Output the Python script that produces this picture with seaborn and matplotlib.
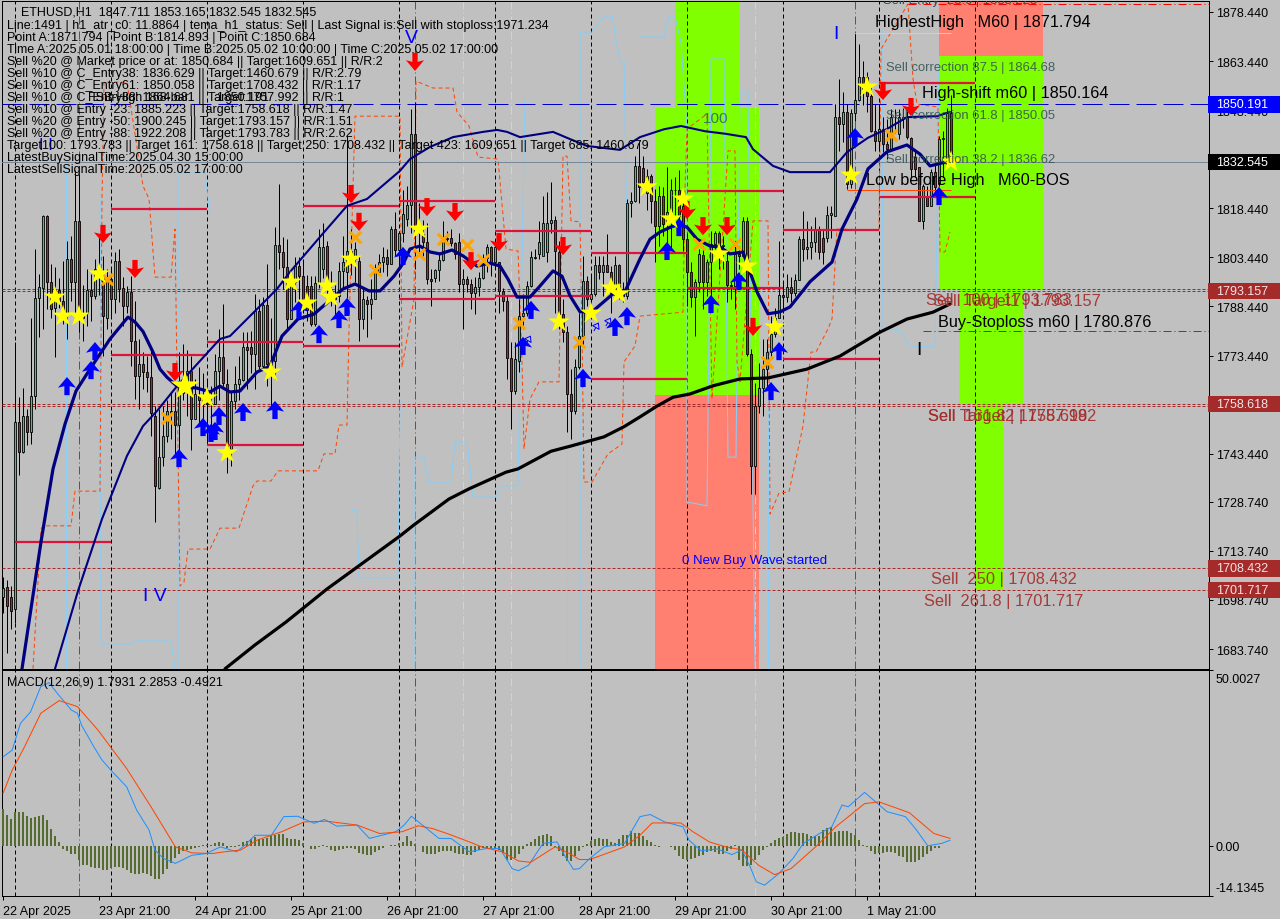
import numpy as np
import pandas as pd
import matplotlib
matplotlib.use("Agg")
import matplotlib.pyplot as plt
from matplotlib.path import Path
import seaborn as sns

open_ = [1699.5,1702.7,1699.5,1696,1753,1744,1755,1750,1761,1791,
1794,1816,1796,1788,1793.5,1790,1786,1803,1796,1814.5,
1786.6,1786.6,1793.6,1791.7,1800,1797.8,1785,1796.8,1790.7,1802.4,
1794,1788.7,1793,1778,1767.3,1771,1768.3,1767,1755,1733,
1742.3,1749,1756.6,1756.6,1752.3,1765.8,1764,1768.8,1754,1761,
1760,1758.5,1759,1758.6,1768.6,1773,1764.7,1745,1759.7,1764.7,
1766,1776,1776,1773.9,1787,1770.4,1789,1771,1771.9,1807.2,
1805.2,1800.4,1784.6,1795.8,1800.7,1797.8,1794.6,1794.6,1783,1795.6,
1799.9,1807,1793.8,1791.7,1791.7,1799.2,1799.1,1805.5,1803,1802.4,
1784.6,1790.4,1789.2,1790.7,1798.9,1801.9,1803.5,1801.4,1812,1805.8,
1810.8,1815.2,1819.6,1841.2,1811,1810.6,1808,1796.8,1797.1,1799.5,
1802.7,1809,1809.3,1807.8,1808,1795.3,1796.8,1795.3,1792.5,1794.3,
1797.1,1803.2,1806.7,1801.9,1801.9,1793.3,1790.2,1772.6,1762.7,1771.7,
1785.6,1786.6,1794.6,1803.5,1804.5,1804,1805,1814.1,1814.9,1805,
1786,1780.5,1761.7,1756.6,1769.9,1779.5,1796.3,1790.7,1792.2,1801.1,
1798.9,1801.1,1798.9,1792.7,1801.1,1793.8,1791.7,1820,1820.6,1831.3,
1830.8,1823,1828.4,1820.8,1813.1,1822.1,1813.6,1817.2,1824,1824.1,
1819.3,1809,1798.9,1791.2,1796,1804.2,1796,1801.9,1807.5,1810.9,
1807,1802.4,1795,1794.6,1804.5,1804,1814.6,1773.9,1739.8,1757.9,
1763.6,1769.3,1774.4,1780,1785,1791.9,1791.2,1794.3,1792.6,1796.5,
1809,1806,1806.5,1808,1812,1809.5,1809.3,1816.4,1816.2,1846.5,
1844.2,1847.8,1825.9,1847.5,1851.6,1858.5,1858.5,1852.9,1842.2,1839,
1842.6,1838,1836.6,1846.2,1841.1,1846.2,1846.2,1840,1834,1831,
1814.7,1822.3,1819.2,1829.4,1825.9,1839.6,1832,1847.7]
high_ = [1705.7,1705,1703,1777.5,1760.7,1763.4,1757,1785,1806,1798.4,
1816.4,1816.4,1801.4,1800.4,1797,1802.4,1808.5,1810,1830,1829,
1795,1800,1798.4,1803,1810.6,1804,1799.9,1800,1805,1806,
1797.3,1794.8,1797.8,1790.2,1778.5,1774.4,1773.4,1775.4,1758,1757,
1758,1760,1762,1762.2,1774.4,1777,1775,1773.4,1766.3,1770,
1768,1766,1764,1773.9,1781.5,1789.2,1769.3,1762.2,1770.3,1773.4,
1780.5,1780.5,1781,1792.2,1790.7,1791.2,1801.4,1785,1812.6,1825.9,
1809.6,1809,1797.8,1803.5,1803.5,1801.9,1798,1797.8,1797.8,1812,
1814,1808.5,1799.4,1795,1802,1810,1840.5,1812,1808,1804,
1793.8,1791.7,1796.8,1801.4,1804.4,1806.5,1806,1813.1,1817.2,1811.6,
1824,1825.4,1848.8,1851,1820,1815,1814.1,1800,1799.9,1805,
1814.6,1811.6,1812.1,1808,1811,1799.9,1797.8,1796.8,1797.3,1798.9,
1804.5,1807.5,1807,1807,1802,1794,1791.7,1777.5,1777.5,1790.7,
1792.2,1796.3,1805.5,1806,1814.6,1822.3,1823.3,1826.4,1816,1808.5,
1790.7,1782.6,1769.3,1772.4,1786.6,1804,1797.8,1797.8,1804,1804,
1804,1810.6,1800.9,1804,1801.4,1795.8,1821.3,1823.3,1834.5,1839,
1834.5,1830.5,1829,1824.3,1825.4,1825,1831,1827.4,1827.9,1830,
1823.8,1811,1802,1796.8,1806,1807,1803,1811.6,1811.6,1811.6,
1810,1805,1795.8,1808.5,1807,1815.7,1815.7,1775.4,1765.2,1771.3,
1778.5,1778.5,1785.6,1788,1808.5,1795.8,1798.3,1797.3,1798.3,1810,
1817.7,1814.6,1813,1815.7,1813,1812,1819.2,1819.2,1850.3,1858,
1853.9,1850.3,1848.8,1871.7,1868.7,1863.5,1860,1856,1850.3,1850.3,
1846.2,1845.7,1848.8,1848.8,1848.8,1849,1848.3,1840.1,1836,1831,
1825.8,1825.3,1830.4,1832,1840.6,1842,1849,1853.2]
low_ = [1694.7,1682.5,1690,1691.7,1737,1743.6,1746,1746.4,1757,1779,
1781.5,1787.7,1785,1772.9,1788,1783,1778.5,1790,1786.6,1780.5,
1778,1782.6,1784,1790.7,1792,1773.4,1781.5,1785,1786.6,1789.7,
1782.6,1786.6,1770.3,1760.1,1757,1763.2,1762.2,1748.9,1722.5,1732.6,
1739.8,1746.9,1748,1743.3,1743.8,1760,1755,1744.7,1754,1752,
1752,1747,1750,1758.6,1760,1764.2,1737.7,1739.8,1757.1,1760,
1765.8,1763.2,1768,1763.2,1769.3,1769.3,1764.2,1758,1766.3,1799.9,
1793.8,1781,1784.6,1789.7,1788.7,1786.6,1784,1782.6,1782.6,1794,
1797,1790.7,1788.7,1785,1789.7,1793.8,1791,1798,1796,1778,
1781.5,1779,1784.6,1790.7,1798.9,1798.9,1797.8,1801.4,1804,1800.9,
1808,1813.1,1811,1800,1805,1804,1795.3,1788.7,1795.8,1796.3,
1802.4,1808,1807,1803,1792.8,1781.5,1792.8,1787.7,1786.1,1791.7,
1796.8,1798.9,1797.8,1800,1786.6,1787,1766.3,1751,1761.7,1768.3,
1781.5,1785.6,1794.3,1803,1803,1804.5,1802,1811,1786.6,1781.5,
1777.5,1750,1748,1755.6,1769.3,1776,1788.7,1785.6,1791.7,1796.8,
1791.7,1798.9,1786.6,1790.7,1790.7,1789.7,1790.7,1815.7,1820.3,1820,
1823.3,1818,1814.1,1801.9,1807,1810.1,1807.5,1806,1815.2,1812.1,
1805.5,1788.7,1788.2,1779.5,1792.8,1787.7,1791.7,1787.7,1806,1800,
1800,1789.7,1790.7,1787.7,1800,1803.5,1773.4,1731,1731,1756,
1755,1763.2,1773.4,1779,1785,1786.6,1789.7,1789.7,1791.7,1796.4,
1802.4,1802.9,1803,1805,1802.9,1801.4,1808,1809.5,1816.2,1836,
1838.6,1824.3,1824.8,1845.2,1851.3,1850,1848,1841.7,1836,1836,
1835.5,1833.5,1836,1841.6,1839.6,1843,1839.6,1827.9,1828,1814.7,
1812.1,1819.2,1819.2,1823,1825.3,1828,1831,1832.5]
close_ = [1702.5,1697,1695.5,1753,1744,1755,1750,1761,1791,1794.3,
1816,1796,1787.7,1793.8,1790,1786,1803,1796,1814.5,1786.6,
1785,1793.6,1791.7,1800,1798,1785.6,1796.8,1790.7,1802.4,1793.8,
1788.7,1793,1778,1767.3,1771,1768.3,1767,1756,1733.5,1742.3,
1749,1756.6,1756,1752.3,1765.8,1762,1768.8,1754,1761.7,1760,
1758.5,1759,1758.6,1768.6,1773,1765,1745,1759.7,1764.7,1766.3,
1776,1775,1773.9,1787,1770.4,1789,1771,1770,1807.2,1805.2,
1800.4,1784.6,1795.8,1800.7,1797.8,1790.2,1787.5,1783,1795.6,1806.5,
1806.7,1793.8,1791.7,1790.7,1799.2,1801.9,1805.5,1803,1806,1784.6,
1790.7,1789.2,1790.7,1798.9,1801.9,1803.5,1801.4,1812,1805.8,1810.8,
1816.7,1819.6,1841.2,1811,1812,1808,1796.8,1796.3,1799.5,1802.7,
1809,1809.3,1807.8,1804.5,1795.3,1796.8,1795.3,1792.5,1794.3,1797.1,
1803.2,1806.7,1801.9,1806.5,1793.3,1790.2,1772.6,1762.7,1772.4,1785.6,
1786.6,1794.6,1803.5,1803.3,1808,1814.1,1814.1,1814.9,1805.5,1786,
1780.5,1761.7,1756.6,1769.9,1779.5,1796.3,1790.7,1792.2,1801.1,1798.9,
1801.1,1798.9,1792.7,1801.1,1793.8,1791.7,1820,1820.6,1831.3,1825,
1826.4,1828.4,1820.8,1813.1,1822.1,1813.6,1817.2,1824,1823.9,1816.2,
1809,1798.9,1791.2,1796,1804.4,1796,1801.9,1807.5,1810.9,1807,
1807.3,1795,1794.6,1804.5,1804,1814.6,1773.9,1739.8,1757.9,1763.6,
1769.3,1774.4,1780,1785,1791.9,1791.2,1794.3,1792.6,1796.5,1809,
1806,1806.5,1808,1812,1805.2,1805.2,1816.4,1816.9,1846.5,1844.2,
1847.8,1825.9,1847.5,1851.6,1858.5,1855,1852.9,1842.2,1839,1842.6,
1838,1836.6,1846.2,1846.5,1846.2,1846,1840.1,1830.5,1830.5,1814.7,
1825.3,1819.2,1829.4,1825,1839.6,1840,1847.7,1832.5]

fast_bar = [4.75,9.5,12.5,15.5,18.25,21.75,26.75,31.25,33,35,37.5,39.25,41,43.5,48.5,51.75,54.25,56.75,59.25,63.5,66.75,69.75,73.75,77.75,85,88,91.5,94.25,97.75,100.25,101.75,104.25,106.75,109.25,112.25,115,118.5,121.75,124.25,126.25,128.5,131.75,134.25,137.5,139.75,141.75,144.25,147.25,152.5,155,159.25,161.75,164.25,168.5,171,173.5,176.75,179.25,181.75,185,186.75,188.5,191.25,194.25,196.75,201.75,207.25,209.75,213.5,216.25,221,226,229.25,231.75,236.75]
fast_ma = [1677.7,1716.5,1738.8,1752.5,1762.6,1769.3,1778.5,1785.2,1783.7,1780.8,1774.5,1769.3,1766.8,1764.1,1763.5,1762.3,1764.1,1762.3,1762.6,1768.4,1770.2,1779.4,1784.6,1786.1,1793.8,1795.3,1793.2,1793.2,1797.7,1802,1806,1806.9,1805.1,1804.5,1805.7,1803.9,1800.8,1801.7,1800.8,1796.8,1791.3,1791.3,1794.7,1799.3,1797.7,1791.7,1786.8,1786.8,1792.3,1791.7,1803,1809,1811.2,1813.6,1812.7,1809,1806.9,1806.6,1804.5,1805.1,1799,1792.9,1786.2,1786.8,1788.3,1796,1802,1812.1,1821.3,1830.5,1835.7,1837.8,1835,1831.4,1832.9]
slow_bar = [13,18.75,24.75,31,35,38.5,43.5,49.25,54.25,56.75,66,68.5,71.75,79.25,86,91,99.25,101.75,106.75,112.5,120,123.5,126,129.25,137.5,141.75,146,154.25,159.25,165.25,169.5,175.5,180.75,185.75,187.5,192.5,196.75,206.75,211,216.25,221,226,233.5,236.75]
slow_ma = [1677.7,1701.5,1723.5,1742.8,1751.9,1756.5,1764.1,1771.8,1778.5,1779.4,1790.7,1793.8,1799,1809.7,1819.2,1821.3,1829.9,1833.5,1837.2,1840.2,1841.8,1842.4,1841.8,1840.2,1841.8,1839.6,1837.5,1836.3,1840.2,1842.6,1843.6,1842,1841.2,1840.2,1836.5,1831.4,1829.5,1829.5,1835.6,1840,1842.7,1846.3,1846.6,1847.9]
long_bar = [55.5,63,70.75,81,99.25,102.75,111.5,116.5,125.75,128.75,137,142,150.25,155.25,159.25,163.5,167.5,171.75,177.5,184.25,191.25,201,209.25,219.25,226,232.5,236.75]
long_ma = [1677.7,1685,1692,1702.1,1718.3,1721.7,1729.6,1732.7,1737.8,1738.8,1744.2,1745.8,1748.6,1751.7,1754.7,1758,1760.7,1761.7,1764.2,1766.3,1766.6,1769.3,1773.3,1780.6,1784.6,1786.7,1789.2]

stop_bar = [7.5,9.5,10,17,18,24.25,24.75,25.25,31,35,36.5,38,42,43,43.75,44.25,45.25,46.25,51.75,54.25,59,62.5,63.5,67,68.75,78.75,80.25,83,84,86,86.5,88,99.25,99.75,102.75,103.25,107.5,112.5,113.5,116.5,118.75,123.75,125.75,128.75,129.75,130.25,131.75,134,139,140,141,142,144.25,144.75,145.25,147.25,151.25,154.75,155.25,158,159.25,170,170.5,171,176,177.25,181.25,183,183.5,184.25,187.5,191.25,191.75,194,196.5,200,202,203.25,206.25,207.25,208.5,219,219.5,226.25,227.5,228.5,233.75,234.25,235.5,236.75]
stop_val = [1677.7,1720.4,1721.4,1721.4,1732,1732,1821.3,1857,1857,1825.3,1821.3,1797.4,1797.4,1812.1,1744.9,1703,1704.2,1714.3,1714.3,1720.7,1720.7,1733.6,1735.1,1735.1,1738.2,1738.2,1743.4,1743.4,1752.2,1752.2,1781.6,1846.6,1846.6,1769.9,1790.7,1857.3,1855.2,1855.2,1847.9,1843.6,1834.1,1833.5,1806,1805.4,1771.5,1744.9,1760.2,1765.4,1765.4,1834.4,1834.4,1814.6,1814.3,1780.6,1734.8,1734.8,1743.4,1746.4,1771.5,1776.4,1785.5,1786.7,1824.4,1842.7,1847.3,1760.2,1836,1836,1771.5,1765.4,1814.6,1814.6,1725,1731.4,1731.8,1751.9,1774.5,1774.5,1781.6,1784.6,1812.1,1811.8,1867.1,1880.9,1858,1850.3,1849.4,1805.1,1805.1,1811.2]

band_seg = [0,0, 1,1,1,1,1,1, 2,2,2,2, 3,3,3,3,3, 4,4,4,4,4,4,4,4,4,4,4,4, 5,5, 6,6,6,6,6,6,6,6, 7,7,7,7,7,7,7,7,7,7,7,7,7,7,7,7, 8,8, 9,9,9,9,9,9,9]
band_bar = [15.75,15.75, 24.25,24.5,32,33.5,42,43, 43.75,43.75,50.5,51.75, 87,88.5,89,98.75,99.25, 103,103,105.25,106.5,112,113,116,117.5,123.25,124.25,128.75,130.5, 141,141, 144.25,144.25,147.25,150.25,152.25,154.25,155.25,156, 159.25,165.25,166.5,168,169.5,171,171,176,176.5,177,180.25,181.25,183.25,184.25,186.25,188, 191.25,191.25, 219.75,220,224.25,226.75,233,233.5,234]
band_val = [1677.7,1833.5, 1821.3,1685.3,1685.3,1686.5,1686.5,1677.7, 1677.7,1829.5,1829.5,1816.1, 1726,1726,1705.5,1705.5,1760, 1677.7,1742.4,1742.4,1734.5,1734.5,1747,1747,1730.2,1730.2,1733.6,1733.6,1851.9, 1677.7,1767, 1677.7,1872.3,1872.3,1877.2,1877.2,1863.2,1863.2,1809, 1870.8,1870.8,1876.9,1876.9,1869.3,1842.7,1728.7,1727.5,1781.6,1864.1,1864.1,1742.4,1742.4,1854,1854,1677.7, 1677.7,1760.2, 1873.2,1781.6,1781,1776.4,1776,1812.1,1863.2]

level_start = [3,27,27,51,51,75,75,99,99,123,123,147,147,171,171,195,195,219,219]
level_end = [27,51,51,75,75,99,99,123,123,147,147,171,171,195,195,219,219,243,243]
level_val = [1716.4,1818.2,1773.6,1777.6,1746.1,1819.2,1776.4,1820.7,1790.7,1811.5,1791.7,1804.8,1766.3,1823.7,1794.1,1811.8,1772.4,1856.7,1821.9]

star_bar = [13,15,19,24,51,56,67,72,76,81,82,87,104,139,147,152,154,161,167,170,179,186,193,212,216,237]
star_val = [1791.3,1785.5,1785.5,1798.4,1760.5,1743.7,1768.4,1795.9,1789.5,1794.7,1791.3,1802.9,1812.1,1783.7,1786.4,1794.1,1792.3,1825,1815.2,1821.3,1804.5,1800.8,1782.2,1828.6,1855.5,1832.6]
big_star_bar = [45.5]
big_star_val = [1764.1]
buy_bar = [16,22,23,44,50,52,53,54,60,68,74,79,84,86,100,130,132,145,153,156,166,169,177,184,192,194,213,234]
buy_val = [1764.1,1769,1774.8,1742.1,1751.6,1749.8,1750.4,1755,1756.2,1756.8,1787.4,1780,1784.6,1788.3,1803.9,1776.4,1787.4,1766.6,1782.2,1785.5,1805.4,1812.7,1789.2,1796.2,1762.6,1774.8,1840.2,1822.2]
sell_bar = [25,33,43,87,89,103,106,113,117,124,140,171,175,181,187.5,220,227]
sell_val = [1810.6,1799.9,1768.4,1822.8,1814.3,1863.2,1818.8,1817.3,1802.3,1808.1,1806.9,1817.9,1813,1813,1782.2,1854.3,1849.4]
cross_bar = [26,41,88,93,104,110,116,120,129,144,174,183,191,222]
cross_val = [1796.8,1754.4,1809.7,1799.6,1804.5,1809.1,1807.2,1802.6,1783.4,1777.6,1807.5,1807.5,1771.5,1840.8]
hollow_bar = [131,148,151]
hollow_val = [1777.5,1781.5,1783]

macd_hist = [10.4,8.7,7.6,9.5,9.5,9.5,8.5,7.8,8.3,8.4,8.9,7.3,4.9,2.8,1,
-0.8,-1.6,-2.3,-2.3,-4,-5.4,-5.6,-6,-6.2,-6.4,-6.8,-6.8,-6.2,-6,-6,-6.3,-6.8,-7.6,-7.9,-7.9,-7.8,-8,-8.5,-9.5,-9.4,-8,-6.5,-5,-3.6,-2.2,-1.4,-1.1,-1,-0.5,-0.2,
0.1,0.2,0.3,0.8,1,0.9,-0.5,-0.4,-0.2,0.3,1,1.5,1.8,2.5,1.8,2,2.2,2.8,3.2,3.4,3.4,2.2,2,1.9,1.7,0.7,-0.1,-0.8,-0.8,-0.2,0.3,-0.4,-1.2,-1.4,-1.2,-0.8,-0.6,-0.6,-0.9,-2.1,-2.3,-2.5,-2.5,-1.7,-1.2,-0.7,0,0.2,0.3,0.9,1.2,2.7,1.3,0.6,-0.1,-1.7,-2.2,-2.4,-2.4,-1.7,-1.4,-1.4,-1.4,-2,-2.2,-2.3,-2.6,-2.6,-1.9,-1.1,-0.6,-0.6,-0.6,-0.9,-1.2,-2,-4,-4,-3.6,-2.4,-0.9,0.5,1,1.9,2.7,3,3.3,2.8,-0.3,-1.4,-3,-4.3,-4.3,-3,-1.6,-0.4,0.6,1.3,2,2.1,2,1.8,1.2,0.8,1.8,3,3,4.3,
3.7,3.7,2.8,1.7,1,0.2,-0.2,-0.1,-0.1,-0.3,-1.2,-2.8,-3.7,-4,-3.8,-3.6,-3,-2.5,-1.7,-1.4,-1.9,-2.2,-2.2,-1.5,-0.9,0.3,-4,-5.7,-5.7,-5.4,-4,-2.5,-1.2,-0.2,0.7,1.7,2.3,2.6,3.3,3.9,3.9,3.7,3.6,3.4,2.8,2.8,2.8,4.4,5,5.3,3.9,4.1,4.1,4.1,3.7,3,1.6,0.3,-0.2,-1.5,-2.2,-2,-2,-1.9,-1.9,-2,-3,-3.3,-4.7,-4.7,-4.6,-4,-3.1,-2.2,-1.6,-0.7,-0.5]
macd_bar = [0,2.3,4.35,6.9,9.45,11.5,13.55,17.1,18.6,19.65,22.7,24.75,27.3,30.9,33.4,36.5,38,40.1,43.1,47.2,50.8,54.35,58.4,60.5,63,67.1,70.2,73.7,77.8,80.4,83.4,88.5,91.6,98.2,100.3,102.1,105.4,109,112,116.6,120.7,124.25,127.3,128.85,131.4,135,138.5,140.6,142.6,144.1,146.7,150.3,155.4,159.25,161.8,165.4,170,171.5,174.55,178.6,182.2,184.75,186.8,188.3,190.4,193.95,197.5,200.1,204.15,207.2,209.75,211.3,215.4,221,225.6,228.1,231.2,234.75,236.8]
macd_val = [25.3,27.2,34.8,38.1,45.3,46.4,43.4,38.6,37.7,34.3,28.2,24.4,21.1,16.8,10.2,4.5,-1.2,-3.6,-5,-2.7,-2.2,-0.3,-1.7,0.2,3,3,8.3,8.4,6.4,7.5,5.6,5.9,2.1,4,5.9,8.4,5.4,2.1,2.1,-1.7,-0.8,-0.8,-6.5,-7.1,-5.5,0.7,1.1,-3.1,-6.7,-6.5,-3.6,-0.3,0.7,8.3,8.9,6.8,5.4,1.6,-1.4,-0.9,-2.5,-1.2,-6,-10.2,-11.2,-7.9,-3.6,0.7,3.5,5.4,11.6,11.1,15.2,9.7,8.3,4.9,0,0.7,1.6]
sig_bar = [0,2.3,5.4,9.45,14.05,18.6,23.75,30.9,37,43.1,47.2,52.3,55.4,59.45,63.5,69.65,75.3,80.9,88.5,94.15,99.75,103.85,107.4,111.5,116.6,119.65,124.75,128.85,131.9,138,141.6,144.1,146.7,155.4,159.25,162.3,169.45,172.5,176.6,180.7,184.75,188.85,192.9,197,203.15,208.2,215.4,219,226.6,232.7,236.8]
sig_val = [14.9,21.5,28.2,37.7,41.3,39.6,32.9,22,11.1,-0.3,-2,-2.2,-1.7,-1.2,1.6,4,6.8,7,5.9,3.5,4,5.7,4.9,3.3,1.1,-0.3,-1.7,-4.3,-4.7,-0.3,-2.2,-3.9,-3.9,-0.3,3,6.5,6.5,4,1.1,-0.3,-1.2,-5.5,-8.2,-6.5,-0.3,5.4,12,12.5,9.4,3.5,2.1]

day_lines = [3,27,51,75,99,123,147,171,195,219,243]
signal_lines = [19,103,213]
pale_lines = [115,127,188]
main_ticks = [1878.44,1863.44,1848.44,1833.44,1818.44,1803.44,1788.44,1773.44,1758.44,1743.44,1728.74,1713.74,1698.74,1683.74]
date_ticks = [0,24,48,72,96,120,144,168,192,216]
date_labels = ["22 Apr 2025","23 Apr 21:00","24 Apr 21:00","25 Apr 21:00","26 Apr 21:00","27 Apr 21:00","28 Apr 21:00","29 Apr 21:00","30 Apr 21:00","1 May 21:00"]
brown_levels = [1793.157,1793.783,1758.618,1757.992,1708.432,1701.717]
header_rows = ["Line:1491 | h1_atr_c0: 11.8864 | tema_h1_status: Sell | Last Signal is:Sell with stoploss:1971.234",
"Point A:1871.794 | Point B:1814.893 | Point C:1850.684",
"Time A:2025.05.01 18:00:00 | Time B:2025.05.02 10:00:00 | Time C:2025.05.02 17:00:00",
"Sell %20 @ Market price or at: 1850.684 || Target:1609.651 || R/R:2",
"Sell %10 @ C_Entry38: 1836.629 || Target:1460.679 || R/R:2.79",
"Sell %10 @ C_Entry61: 1850.058 || Target:1708.432 || R/R:1.17",
"Sell %10 @ C_Entry88: 1864.681 || Target:1757.992 || R/R:1",
"Sell %10 @ Entry -23: 1885.223 || Target:1758.618 || R/R:1.47",
"Sell %20 @ Entry -50: 1900.245 || Target:1793.157 || R/R:1.51",
"Sell %20 @ Entry -88: 1922.208 || Target:1793.783 || R/R:2.62",
"Target100: 1793.783 || Target 161: 1758.618 || Target 250: 1708.432 || Target 423: 1609.651 || Target 685: 1460.679",
"LatestBuySignalTime:2025.04.30 15:00:00",
"LatestSellSignalTime:2025.05.02 17:00:00"]

BG = "#C0C0C0"
sns.set_theme(style="white", rc={"axes.facecolor": BG, "figure.facecolor": BG, "savefig.facecolor": BG,
                                 "axes.edgecolor": "black", "axes.linewidth": 0.72})
FONT = ["Liberation Sans", "DejaVu Sans"]
plt.rcParams["font.family"] = FONT
W, H = 1280, 920
fig = plt.figure(figsize=(W / 100, H / 100), dpi=100)
LEFT, RIGHT = 2, 1209
ax = fig.add_axes([LEFT / W, 1 - 669.5 / H, (RIGHT - LEFT) / W, (669.5 - 2) / H])
ax2 = fig.add_axes([LEFT / W, 1 - 896.5 / H, (RIGHT - LEFT) / W, (896.5 - 671) / H])
XLIM = (-0.25, 301.5)
PX1 = 0.72  # one pixel, in points

# target zones
zones = [(168, 184, 1849.2, 1881.8, "#7FFF00"), (163, 189, 1761.4, 1849.2, "#7FFF00"), (163, 189, 1677.8, 1761.4, "#FF8070"),
         (234, 260, 1865, 1881.8, "#FF8070"), (234, 260, 1793.8, 1865, "#7FFF00"), (239, 255, 1758.6, 1793.8, "#7FFF00"),
         (243, 250, 1701.7, 1758.6, "#7FFF00")]
for x0, x1, y0, y1, c in zones:
    ax.fill_between([x0, x1], y0, y1, color=c, lw=0, zorder=1)

for a in (ax, ax2):
    a.vlines(day_lines, 0, 1, transform=a.get_xaxis_transform(), color="black", lw=PX1, ls=(0, (4, 3)), zorder=2)
    a.vlines(signal_lines, 0, 1, transform=a.get_xaxis_transform(), color="#C71585", lw=PX1, ls=(0, (8, 3, 1, 3)), zorder=2)
    a.vlines(pale_lines, 0, 1, transform=a.get_xaxis_transform(), color="#B0E0E6", lw=PX1, ls=(0, (8, 3, 1, 3)), zorder=2)

# stepped indicator lines
band = pd.DataFrame({"bar": band_bar, "val": band_val, "seg": band_seg})
sns.lineplot(data=band, x="bar", y="val", units="seg", estimator=None, sort=False, color="#87CEFA", lw=PX1, ax=ax, zorder=2.5, legend=False)
stop = pd.DataFrame({"bar": stop_bar, "val": stop_val})
sns.lineplot(data=stop, x="bar", y="val", estimator=None, sort=False, color="#FF4500", lw=PX1, ls=(0, (4, 3)), ax=ax, zorder=2.6, legend=False)

for v in brown_levels:
    ax.axhline(v, color="#A52A2A", lw=PX1, ls=(0, (3, 2)), zorder=3)
ax.axhline(1850.191, color="#0000CD", lw=PX1, ls=(0, (20, 7)), zorder=3)
ax.axhline(1832.545, color="#778899", lw=PX1, zorder=3)

# candles
o, h, l, c = map(np.array, (open_, high_, low_, close_))
idx = np.arange(len(c))
up = c >= o
ax.vlines(idx, l, h, color="black", lw=PX1, zorder=4)
ax.bar(idx[up], (c - o)[up], bottom=o[up], width=0.7, color="#2FD080", edgecolor="black", lw=0.6, zorder=4.2)
ax.bar(idx[~up], (c - o)[~up], bottom=o[~up], width=0.7, color="#C01C3C", edgecolor="black", lw=0.6, zorder=4.2)

# levels
ax.hlines(level_val, level_start, level_end, color="#DC143C", lw=1.6, zorder=5)
ax.hlines([1872], 213, 237, color="#ADFF2F", lw=PX1, zorder=5)
ax.hlines([1824.1], 211, 237, color="#FF4500", lw=PX1, zorder=5)
ax.hlines([1880.9], 226.25, XLIM[1], color="#FF0000", lw=PX1, ls=(0, (8, 3, 1, 3)), zorder=5)
ax.hlines([1780.876], 230, XLIM[1], color="#FF0000", lw=PX1, ls=(0, (8, 3, 1, 3)), zorder=5)

# moving averages
for xs, ys, col, lw, zo in [(long_bar, long_ma, "black", 2.3, 6), (slow_bar, slow_ma, "#000080", 1.5, 6), (fast_bar, fast_ma, "#000080", 2.3, 6)]:
    sns.lineplot(x=xs, y=ys, estimator=None, sort=False, color=col, lw=lw, ax=ax, zorder=zo, legend=False)

# signal markers
arrow_up = Path([(-.16, -.55), (.16, -.55), (.16, .0), (.55, -.1), (0, .55), (-.55, -.1), (-.16, .0), (-.16, -.55)], closed=True)
arrow_dn = Path([(-.16, .55), (.16, .55), (.16, .0), (.55, .1), (0, -.55), (-.55, .1), (-.16, .0), (-.16, .55)], closed=True)
sns.scatterplot(x=buy_bar, y=buy_val, marker=arrow_up, s=170, color="#0000FF", edgecolor="none", ax=ax, zorder=7, legend=False)
sns.scatterplot(x=sell_bar, y=sell_val, marker=arrow_dn, s=170, color="#FF0000", edgecolor="none", ax=ax, zorder=7, legend=False)
sns.scatterplot(x=cross_bar, y=cross_val, marker="x", s=70, color="#FFA500", linewidth=2.2, ax=ax, zorder=7, legend=False)
sns.scatterplot(x=star_bar, y=star_val, marker="*", s=270, color="#FFFF00", edgecolor="none", ax=ax, zorder=8, legend=False)
sns.scatterplot(x=big_star_bar, y=big_star_val, marker="*", s=480, color="#FFFF00", edgecolor="none", ax=ax, zorder=8, legend=False)
for b, v in zip(hollow_bar, hollow_val):
    ax.annotate("", xy=(b + 1.3, v + 2.8), xytext=(b - 0.6, v - 1.2),
                arrowprops=dict(arrowstyle="-|>,head_width=0.22,head_length=0.3", fc=BG, ec="#0000FF", lw=PX1), zorder=8)

# MACD panel
sns.barplot(x=np.arange(len(macd_hist)), y=macd_hist, native_scale=True, width=0.72, color="#556B2F", saturation=1,
            linewidth=0, edgecolor="none", antialiased=False, ax=ax2, zorder=3, legend=False)
sns.lineplot(x=macd_bar, y=macd_val, estimator=None, sort=False, color="#1E90FF", lw=PX1, ax=ax2, zorder=4, legend=False)
sns.lineplot(x=sig_bar, y=sig_val, estimator=None, sort=False, color="#FF4500", lw=PX1, ax=ax2, zorder=5, legend=False)
ax.set_xlim(*XLIM); ax2.set_xlim(*XLIM)
ax.set_ylim(1677.8, 1881.8); ax2.set_ylim(-14.1345, 50.0027)

# axes
TS = 9.0
ax.set_xlabel(""); ax.set_ylabel(""); ax2.set_xlabel(""); ax2.set_ylabel("")
ax.set_xticks([])
ax.yaxis.tick_right()
ax.set_yticks(main_ticks)
ax.set_yticklabels([f"{t:.3f}" for t in main_ticks])
ax.tick_params(axis="y", right=True, length=3, width=PX1, color="black", labelsize=TS, pad=2, labelcolor="black")
ax2.yaxis.tick_right()
ax2.set_yticks([50.0027, 0, -14.1345])
ax2.set_yticklabels(["", "0.00", ""])
ax2.tick_params(axis="y", right=True, length=3, width=PX1, color="black", labelsize=TS, pad=2, labelcolor="black")
for v, t in [(47.4, "50.0027"), (-12, "-14.1345")]:
    ax2.text(1.0057, v, t, transform=ax2.get_yaxis_transform(), fontsize=TS, color="black", va="center", ha="left", clip_on=False)
ax2.set_xticks(date_ticks)
ax2.set_xticklabels(date_labels, ha="left")
ax2.tick_params(axis="x", bottom=True, length=3, width=PX1, color="black", labelsize=TS, pad=4, labelcolor="black")
for a in (ax, ax2):
    for s in a.spines.values():
        s.set_visible(True); s.set_color("black"); s.set_linewidth(PX1)

# price boxes on the axis
boxes = [(1850.191, "#0000FF", "white"), (1832.545, "black", "white"), (1793.157, "#A52A2A", "#F4E4E4"),
         (1758.618, "#A52A2A", "#F4E4E4"), (1708.432, "#A52A2A", "#F4E4E4"), (1701.717, "#A52A2A", "#F4E4E4")]
for v, bg, fg in boxes:
    ax.text(1.0058, v, f"{v:.3f}", transform=ax.get_yaxis_transform(), fontsize=TS, color=fg, va="center", ha="left",
            zorder=21, clip_on=False)
    ax.text(1.0012, v, " " * 23, transform=ax.get_yaxis_transform(), fontsize=TS, va="center", ha="left", zorder=20, clip_on=False,
            bbox=dict(boxstyle="square,pad=0.18", fc=bg, ec=bg, lw=0))

# text
def px(x, y, s, **kw):
    kw.setdefault("color", "black"); kw.setdefault("fontsize", TS)
    kw.setdefault("va", "center"); kw.setdefault("ha", "left")
    fig.text(x / W, 1 - y / H, s, zorder=30, **kw)

px(21, 12.7, "ETHUSD,H1  1847.711 1853.165 1832.545 1832.545")
for i, row in enumerate(header_rows):
    px(7, 25.7 + 12 * i, row)
px(88, 97.7, "FSB-High 168-bar        1850.191")
px(7, 683, "MACD(12,26,9) 1.7931 2.2853 -0.4921")

BIG = 11.7
label_bar = [218, 229.75, 215.75, 233.75, 230.75, 232.5, 231.25, 231.25, 232, 230.25, 169.75]
label_val = [1875.4, 1853.7, 1827.3, 1783.9, 1790.7, 1790.3, 1755, 1755, 1705.2, 1698.5, 1711]
label_txt = ["HighestHigh   M60 | 1871.794", "High-shift m60 | 1850.164", "Low before High   M60-BOS", "Buy-Stoploss m60 | 1780.876",
             "Sell  100 | 1793.783", "Sell Target1 | 1793.157", "Sell  161.8 | 1758.618", "Sell Target2 | 1757.992",
             "Sell  250 | 1708.432", "Sell  261.8 | 1701.717", "0 New Buy Wave started"]
label_col = ["black"] * 4 + ["#A52A2A"] * 6 + ["#0000FF"]
label_fs = [BIG] * 4 + [11.8] * 6 + [9.5]
for b, v, t, col, fs in zip(label_bar, label_val, label_txt, label_col, label_fs):
    ax.text(b, v, t, color=col, fontsize=fs, va="center", ha="left", zorder=12, alpha=0.9 if col == "#A52A2A" else 1, clip_on=False)
corr_val = [1861.5, 1847.1, 1833.6]
corr_txt = ["Sell correction 87.5 | 1864.68", "Sell correction 61.8 | 1850.05", "Sell correction 38.2 | 1836.62"]
for v, t in zip(corr_val, corr_txt):
    ax.text(220.75, v, t, color="#2F4F4F", fontsize=9.4, va="center", ha="left", zorder=12, alpha=0.85)
ax.text(220, 1882, "Sell Entry -23.6 | 1885.223", color="#2F4F4F", fontsize=9.4, va="center", ha="left", zorder=12, clip_on=True)
ax.text(175, 1846, "100", color="#2F7F4F", fontsize=11, va="center", ha="left", zorder=12)
for b, v, t, col, fs in [(100.5, 1870.6, "V", "#0000FF", 14), (207.5, 1872, "I", "#0000FF", 14), (35, 1700, "I V", "#0000FF", 14),
                         (228.3, 1775.3, "I", "black", 14), (9, 1838, "I I", "#0000FF", 12)]:
    ax.text(b, v, t, color=col, fontsize=fs, va="center", ha="left", zorder=12)

fig.savefig("out.png", dpi=100)
